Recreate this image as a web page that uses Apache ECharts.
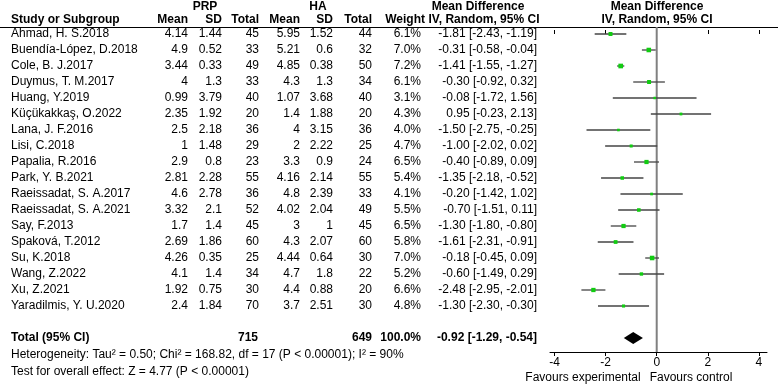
<!DOCTYPE html>
<html>
<head>
<meta charset="utf-8">
<script src="https://cdn.jsdelivr.net/npm/echarts@6/dist/echarts.min.js"></script>
<style>html,body{margin:0;padding:0;background:#fff}#c{width:778px;height:385px}</style>
</head>
<body>
<div id="c"></div>
<script>
var studies = ['Ahmad, H. S.2018','Buendía-López, D.2018','Cole, B. J.2017','Duymus, T. M.2017','Huang, Y.2019','Küçükakkaş, O.2022','Lana, J. F.2016','Lisi, C.2018','Papalia, R.2016','Park, Y. B.2021','Raeissadat, S. A.2017','Raeissadat, S. A.2021','Say, F.2013','Spaková, T.2012','Su, K.2018','Wang, Z.2022','Xu, Z.2021','Yaradilmis, Y. U.2020'];
var prpMean = ['4.14','4.9','3.44','4','0.99','2.35','2.5','1','2.9','2.81','4.6','3.32','1.7','2.69','4.26','4.1','1.92','2.4'];
var prpSD = ['1.44','0.52','0.33','1.3','3.79','1.92','2.18','1.48','0.8','2.28','2.78','2.1','1.4','1.86','0.35','1.4','0.75','1.84'];
var prpN = [45,33,49,33,40,20,36,29,23,55,36,52,45,60,25,34,30,70];
var haMean = ['5.95','5.21','4.85','4.3','1.07','1.4','4','2','3.3','4.16','4.8','4.02','3','4.3','4.44','4.7','4.4','3.7'];
var haSD = ['1.52','0.6','0.38','1.3','3.68','1.88','3.15','2.22','0.9','2.14','2.39','2.04','1','2.07','0.64','1.8','0.88','2.51'];
var haN = [44,32,50,34,40,20,36,25,24,55,33,49,45,60,30,22,20,30];
var weight = [6.1,7.0,7.2,6.1,3.1,4.3,4.0,4.7,6.5,5.4,4.1,5.5,6.5,5.8,7.0,5.2,6.6,4.8];
var md = [-1.81,-0.31,-1.41,-0.30,-0.08,0.95,-1.50,-1.00,-0.40,-1.35,-0.20,-0.70,-1.30,-1.61,-0.18,-0.60,-2.48,-1.30];
var lo = [-2.43,-0.58,-1.55,-0.92,-1.72,-0.23,-2.75,-2.02,-0.89,-2.18,-1.42,-1.51,-1.80,-2.31,-0.45,-1.49,-2.95,-2.30];
var hi = [-1.19,-0.04,-1.27,0.32,1.56,2.13,-0.25,0.02,0.09,-0.52,1.02,0.11,-0.80,-0.91,0.09,0.29,-2.01,-0.30];
var totalPRP = 715, totalHA = 649, totalWeight = 100.0;
var totalMD = -0.92, totalLo = -1.29, totalHi = -0.54;
var totalRow = 19;
var xTicks = [-4,-2,0,2,4];
var heterogeneity = 'Heterogeneity: Tau² = 0.50; Chi² = 168.82, df = 17 (P < 0.00001); I² = 90%';
var overall = 'Test for overall effect: Z = 4.77 (P < 0.00001)';

var FONT = '12px "Liberation Sans", Arial, sans-serif';
var BFONT = 'bold 12px "Liberation Sans", Arial, sans-serif';
function ci(m,l,h){return m.toFixed(2)+' ['+l.toFixed(2)+', '+h.toFixed(2)+']';}
function txt(t,x,y,align,bold){return {type:'text',style:{text:String(t),x:x,y:y,align:align||'left',verticalAlign:'middle',font:bold?BFONT:FONT,fill:'#000'}};}

var chart = echarts.init(document.getElementById('c'), null, {renderer:'canvas'});

var option = {
  animation:false,
  grid:{left:550, right:11, top:27, bottom:33, containLabel:false},
  xAxis:[{
    type:'value', min:-4.18, max:4.32, position:'bottom',
    axisLine:{show:true, onZero:false, lineStyle:{color:'#000', width:1}},
    axisTick:{show:true, inside:false, length:4, customValues:xTicks, lineStyle:{color:'#000'}},
    axisLabel:{show:true, customValues:xTicks, margin:5, color:'#000', fontSize:12, fontFamily:'"Liberation Sans", Arial, sans-serif'},
    splitLine:{show:false}
  },{
    type:'value', min:-4.18, max:4.32, position:'bottom',
    axisLine:{show:false},
    axisTick:{show:true, inside:true, length:4, customValues:xTicks, lineStyle:{color:'#000'}},
    axisLabel:{show:false}, splitLine:{show:false}
  }],
  yAxis:{type:'value', inverse:true, min:-0.4375, max:19.875, show:false},
  graphic:[
    {type:'line', shape:{x1:0,y1:27.5,x2:778,y2:27.5}, style:{stroke:'#000', lineWidth:1}},
    txt('PRP',205,7,'center',true),
    txt('HA',318,7,'center',true),
    txt('Mean Difference',478,7,'center',true),
    txt('Mean Difference',657,7,'center',true),
    txt('Study or Subgroup',11,20,'left',true),
    txt('Mean',188,20,'right',true),
    txt('SD',222,20,'right',true),
    txt('Total',259,20,'right',true),
    txt('Mean',300,20,'right',true),
    txt('SD',333,20,'right',true),
    txt('Total',372,20,'right',true),
    txt('Weight',425,20,'right',true),
    txt('IV, Random, 95% CI',484,20,'center',true),
    txt('IV, Random, 95% CI',657,20,'center',true),
    txt(heterogeneity,11,355,'left',false),
    txt(overall,11,372,'left',false),
    txt('Favours experimental',583,378,'center',false),
    txt('Favours control',691,378,'center',false)
  ],
  series:[
    {
      type:'line', xAxisIndex:0, symbol:'none', silent:true, z:1,
      data:[[0,-0.4375],[0,19.875]],
      lineStyle:{color:'#808080', width:2}
    },
    {
      type:'custom', xAxisIndex:0, z:2,
      data:studies.map(function(s,i){return [0,i];}),
      renderItem:function(params, api){
        var i = params.dataIndex;
        var y = api.coord([0,i])[1];
        return {type:'group', children:[
          txt(studies[i],11,y,'left'),
          txt(prpMean[i],188,y,'right'),
          txt(prpSD[i],222,y,'right'),
          txt(prpN[i],259,y,'right'),
          txt(haMean[i],300,y,'right'),
          txt(haSD[i],333,y,'right'),
          txt(haN[i],372,y,'right'),
          txt(weight[i].toFixed(1)+'%',421,y,'right'),
          txt(ci(md[i],lo[i],hi[i]),537,y,'right')
        ]};
      }
    },
    {
      type:'custom', xAxisIndex:0, z:3,
      data:studies.map(function(s,i){return [md[i],i];}),
      renderItem:function(params, api){
        var i = params.dataIndex;
        var a = api.coord([lo[i],i]), b = api.coord([hi[i],i]);
        return {type:'line', shape:{x1:a[0],y1:a[1],x2:b[0],y2:b[1]}, style:{stroke:'#444', lineWidth:1.3}};
      }
    },
    {
      type:'scatter', xAxisIndex:0, symbol:'rect', z:10,
      data:studies.map(function(s,i){return [md[i],i];}),
      symbolSize:function(v,p){return Math.max(2.5, weight[p.dataIndex]*0.65);},
      itemStyle:{color:'#11cc11', opacity:1}
    },
    {
      type:'custom', xAxisIndex:0, z:4,
      data:[[totalMD,totalRow]],
      renderItem:function(params, api){
        var y = api.coord([0,totalRow])[1];
        var l = api.coord([totalLo,totalRow])[0], m = api.coord([totalMD,totalRow])[0], h = api.coord([totalHi,totalRow])[0];
        return {type:'group', children:[
          {type:'polygon', shape:{points:[[l,y],[m,y-6],[h,y],[m,y+6]]}, style:{fill:'#000'}},
          txt('Total (95% CI)',11,y,'left',true),
          txt(totalPRP,258,y,'right',true),
          txt(totalHA,372,y,'right',true),
          txt(totalWeight.toFixed(1)+'%',421,y,'right',true),
          txt(ci(totalMD,totalLo,totalHi),537,y,'right',true)
        ]};
      }
    }
  ]
};
chart.setOption(option);
</script>
</body>
</html>
